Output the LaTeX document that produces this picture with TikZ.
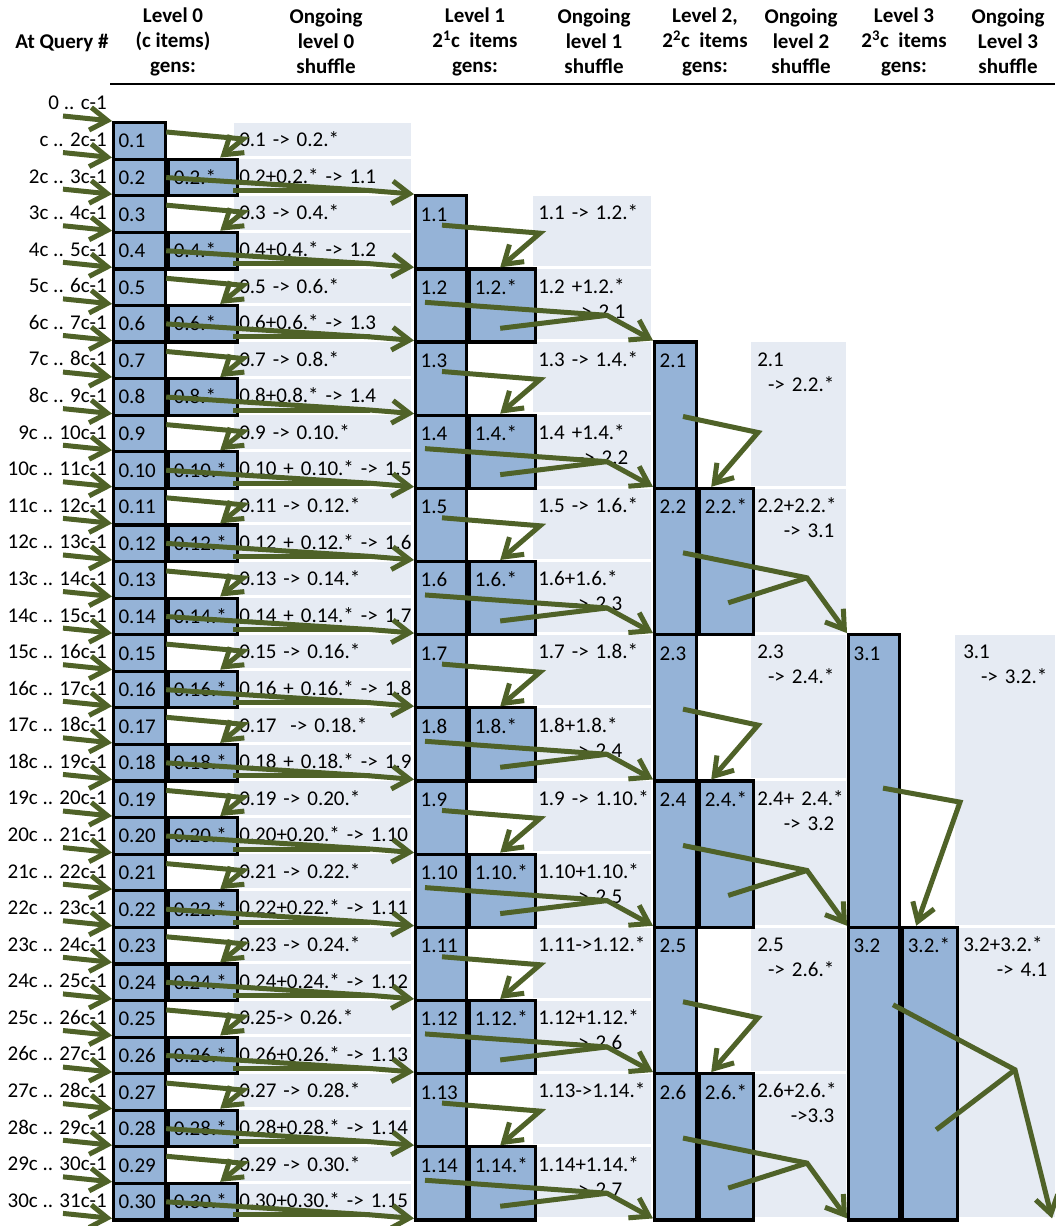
\documentclass[tikz,border=0pt]{standalone}
\usepackage{fontspec}
\setmainfont{Carlito}
\usetikzlibrary{arrows.meta,calc}

\definecolor{genblue}{RGB}{149,179,215}
\definecolor{shufgray}{RGB}{230,235,243}
\definecolor{flowgreen}{RGB}{79,98,40}

\newcommand{\rowh}{36.58}
\newcommand{\shufnext}[2]{\\\hspace*{\fill}#2\hspace*{#1}\mbox{}}

\tikzset{
  genbox/.style={draw=black,line width=2.4pt,fill=genblue,anchor=north west,align=left,
    inner xsep=3.75pt,inner ysep=0pt,text height=19pt},
  gen0/.style={genbox,text width=31.5pt,text depth=8.435pt},
  star0/.style={genbox,text width=44.25pt,text depth=8.435pt},
  gen1/.style={genbox,text width=30.75pt,text depth=35.87pt},
  star1/.style={genbox,text width=42pt,text depth=35.87pt},
  gen2/.style={genbox,text width=24pt,text depth=90.74pt},
  star2/.style={genbox,text width=33pt,text depth=90.74pt},
  gen3/.style={genbox,text width=30.75pt,text depth=200.48pt},
  star3/.style={genbox,text width=33.75pt,text depth=200.48pt},
  shufbox/.style={fill=shufgray,anchor=north west,align=left,inner ysep=0pt,text height=18pt},
  shuf0/.style={shufbox,inner xsep=3.75pt,text width=125.25pt,text depth=7.185pt},
  shuf1/.style={shufbox,inner xsep=3.75pt,text width=81pt,text depth=34.62pt},
  shuf2/.style={shufbox,inner xsep=4.5pt,text width=62.25pt,text depth=89.49pt},
  shuf3/.style={shufbox,inner xsep=6pt,text width=63pt,text depth=199.23pt},
  rowlab/.style={anchor=base east,inner sep=0pt},
  head/.style={font=\fontsize{15.75}{18.75}\selectfont\bfseries,align=center,inner sep=0pt},
  flow/.style={draw=flowgreen,line width=3.75pt,-{Straight Barb[length=13pt,width=17pt]}},
  feed/.style={draw=flowgreen,line width=3.75pt}
}

\begin{document}
\begin{tikzpicture}[x=0.75pt,y=-0.75pt,font=\fontsize{15.75}{18.75}\selectfont]
  \useasboundingbox (0,0) rectangle (1055,1226);

  % Header
  \node[head] (hq) at (62,43) {At Query \#};
  \node[head] (h0) at (173,41.5) {Level 0\\(c items)\\gens:};
  \node[head] (hs0) at (326,41.5) {Ongoing\\level 0\\shuffle};
  \node[head] (h1) at (475,41.5) {Level 1\\2\textsuperscript{1}c\ \ items\\gens:};
  \node[head] (hs1) at (594,41.5) {Ongoing\\level 1\\shuffle};
  \node[head] (h2) at (705,41.5) {Level 2,\\2\textsuperscript{2}c\ \ items\\gens:};
  \node[head] (hs2) at (801,41.5) {Ongoing\\level 2\\shuffle};
  \node[head] (h3) at (904,41.5) {Level 3\\2\textsuperscript{3}c\ \ items\\gens:};
  \node[head] (hs3) at (1008,41.5) {Ongoing\\Level 3\\shuffle};
  \draw[line width=1.5pt] (110,84) -- (1055,84);

  % Slots of each level
  \foreach \j in {0,...,30}{
    \pgfmathtruncatemacro\k{\j+1}
    \coordinate (in0-\k) at (112,{121+\j*\rowh});
    \coordinate (src-\j) at (63,{116+\j*\rowh});
  }
  \foreach \m in {1,...,15}
    \coordinate (in1-\m) at (414,{121+2*\m*\rowh});
  \foreach \m in {1,...,7}
    \coordinate (in2-\m) at (653,{121+(4*\m+2)*\rowh});
  \foreach \m in {1,...,3}
    \coordinate (in3-\m) at (847,{121+(8*\m+6)*\rowh});
  \coordinate (in4-1) at (1052,{121+30*\rowh});

  % Query numbers
  \foreach \j in {0,...,30}{
    \pgfmathtruncatemacro\k{\j+1}
    \node[rowlab] (q-\j) at (107,{109.9+\j*\rowh})
      {\ifcase\j\relax0 .. c-1\or c .. 2c-1\else\j c .. \k c-1\fi};
  }

  % Ongoing shuffles
  \foreach \k/\txt in {1/{0.1 -> 0.2.*},2/{0.2+0.2.* -> 1.1},3/{0.3 -> 0.4.*},
      4/{0.4+0.4.* -> 1.2},5/{0.5 -> 0.6.*},6/{0.6+0.6.* -> 1.3},7/{0.7 -> 0.8.*},
      8/{0.8+0.8.* -> 1.4},9/{0.9 -> 0.10.*},10/{0.10 + 0.10.* -> 1.5},
      11/{0.11 -> 0.12.*},12/{0.12 + 0.12.* -> 1.6},13/{0.13 -> 0.14.*},
      14/{0.14 + 0.14.* -> 1.7},15/{0.15 -> 0.16.*},16/{0.16 + 0.16.* -> 1.8},
      17/{0.17 \ -> 0.18.*},18/{0.18 + 0.18.* -> 1.9},19/{0.19 -> 0.20.*},
      20/{0.20+0.20.* -> 1.10},21/{0.21 -> 0.22.*},22/{0.22+0.22.* -> 1.11},
      23/{0.23 -> 0.24.*},24/{0.24+0.24.* -> 1.12},25/{0.25-> 0.26.*},
      26/{0.26+0.26.* -> 1.13},27/{0.27 -> 0.28.*},28/{0.28+0.28.* -> 1.14},
      29/{0.29 -> 0.30.*},30/{0.30+0.30.* -> 1.15}}
    \node[shuf0] (h0-\k) at ($(in0-\k)+(122,1.5)$) {\mbox{\txt}};
  \foreach \m/\txt in {1/{\mbox{1.1 -> 1.2.*}},2/{\mbox{1.2 +1.2.*}\shufnext{15.75pt}{-> 2.1}},
      3/{\mbox{1.3 -> 1.4.*}},4/{\mbox{1.4 +1.4.*}\shufnext{13.5pt}{-> 2.2}},
      5/{\mbox{1.5 -> 1.6.*}},6/{1.6+1.6.*\shufnext{18pt}{-> 2.3}},
      7/{\mbox{1.7 -> 1.8.*}},8/{1.8+1.8.*\shufnext{18pt}{-> 2.4}},
      9/{\mbox{1.9 -> 1.10.*}},10/{1.10+1.10.*\shufnext{18pt}{-> 2.5}},
      11/{\mbox{1.11->1.12.*}},12/{1.12+1.12.*\shufnext{18pt}{-> 2.6}},
      13/{\mbox{1.13->1.14.*}},14/{1.14+1.14.*\shufnext{18pt}{-> 2.7}}}
    \node[shuf1] (h1-\m) at ($(in1-\m)+(119,1.5)$) {\txt};
  \foreach \m/\txt in {1/{2.1\shufnext{4.5pt}{-> 2.2.*}},2/{2.2+2.2.*\shufnext{4.5pt}{-> 3.1}},
      3/{2.3\shufnext{4.5pt}{-> 2.4.*}},4/{\mbox{2.4+ 2.4.*}\shufnext{4.5pt}{-> 3.2}},
      5/{2.5\shufnext{4.5pt}{-> 2.6.*}},6/{2.6+2.6.*\shufnext{4.5pt}{->3.3}}}
    \node[shuf2] (h2-\m) at ($(in2-\m)+(98,1.5)$) {\txt};
  \foreach \m/\txt in {1/{3.1\shufnext{0pt}{-> 3.2.*}},2/{3.2+3.2.*\shufnext{0pt}{-> 4.1}}}
    \node[shuf3] (h3-\m) at ($(in3-\m)+(108,1.5)$) {\txt};

  % Generations
  \foreach \k in {1,...,30}
    \node[gen0] (g0-\k) at (in0-\k) {0.\k};
  \foreach \k in {2,4,...,30}
    \node[star0] (s0-\k) at (g0-\k.north east) {0.\k.*};
  \foreach \m in {1,...,14}
    \node[gen1] (g1-\m) at (in1-\m) {1.\m};
  \foreach \m in {2,4,...,14}
    \node[star1] (s1-\m) at (g1-\m.north east) {1.\m.*};
  \foreach \m in {1,...,6}
    \node[gen2] (g2-\m) at (in2-\m) {2.\m};
  \foreach \m in {2,4,6}
    \node[star2] (s2-\m) at (g2-\m.north east) {2.\m.*};
  \node[gen3] (g3-1) at (in3-1) {3.1};
  \node[gen3] (g3-2) at (in3-2) {3.2};
  \node[star3] (s3-2) at (g3-2.north east) {3.2.*};

  % Arrows
  \foreach \j in {0,...,30}{
    \pgfmathtruncatemacro\k{\j+1}
    \draw[flow] (src-\j) -- (in0-\k);
  }
  \foreach \k in {1,3,...,29}{
    \pgfmathtruncatemacro\n{\k+1}
    \draw[flow] ($(g0-\k.north east)+(-1,11)$) -- ($(g0-\k.north east)+(76,18)$)
      -- ($(s0-\n.north west)+(53,0)$);
  }
  \foreach \k in {2,4,...,30}{
    \pgfmathtruncatemacro\m{\k/2}
    \coordinate (j0-\k) at ($(g0-\k.north east)+(203,33)$);
    \draw[feed] ($(s0-\k.north east)+(-6,33)$) -- (j0-\k);
    \draw[flow] ($(g0-\k.north east)+(-1,20)$) -- (j0-\k) -- (in1-\m);
  }
  \foreach \m in {1,3,...,13}{
    \pgfmathtruncatemacro\n{\m+1}
    \draw[flow] ($(g1-\m.north west)+(28,31)$) -- ($(g1-\m.north west)+(126,39)$)
      -- ($(s1-\n.north west)+(32,0)$);
  }
  \foreach \m in {2,4,...,14}{
    \pgfmathtruncatemacro\p{\m/2}
    \coordinate (j1-\m) at ($(g1-\m.north west)+(193,48)$);
    \draw[feed] ($(s1-\m.north west)+(32,61)$) -- (j1-\m);
    \draw[flow] ($(g1-\m.north west)+(11,35)$) -- (j1-\m) -- (in2-\p);
  }
  \foreach \m in {1,3,5}{
    \pgfmathtruncatemacro\n{\m+1}
    \draw[flow] ($(g2-\m.north west)+(30,76)$) -- ($(g2-\m.north west)+(105,92)$)
      -- ($(s2-\n.north west)+(13,0)$);
  }
  \foreach \m in {2,4,6}{
    \pgfmathtruncatemacro\p{\m/2}
    \coordinate (j2-\m) at ($(g2-\m.north west)+(154,91)$);
    \draw[feed] ($(s2-\m.north west)+(30,116)$) -- (j2-\m);
    \draw[flow] ($(g2-\m.north west)+(30,66)$) -- (j2-\m) -- (in3-\p);
  }
  \draw[flow] ($(g3-1.north west)+(36,155)$) -- ($(g3-1.north west)+(113,169)$)
    -- ($(s3-2.north west)+(15,0)$);
  \coordinate (j3-2) at ($(g3-2.north west)+(168,144)$);
  \draw[feed] ($(s3-2.north west)+(35,204)$) -- (j3-2);
  \draw[flow] ($(g3-2.north west)+(46,79)$) -- (j3-2) -- (in4-1);
\end{tikzpicture}
\end{document}
